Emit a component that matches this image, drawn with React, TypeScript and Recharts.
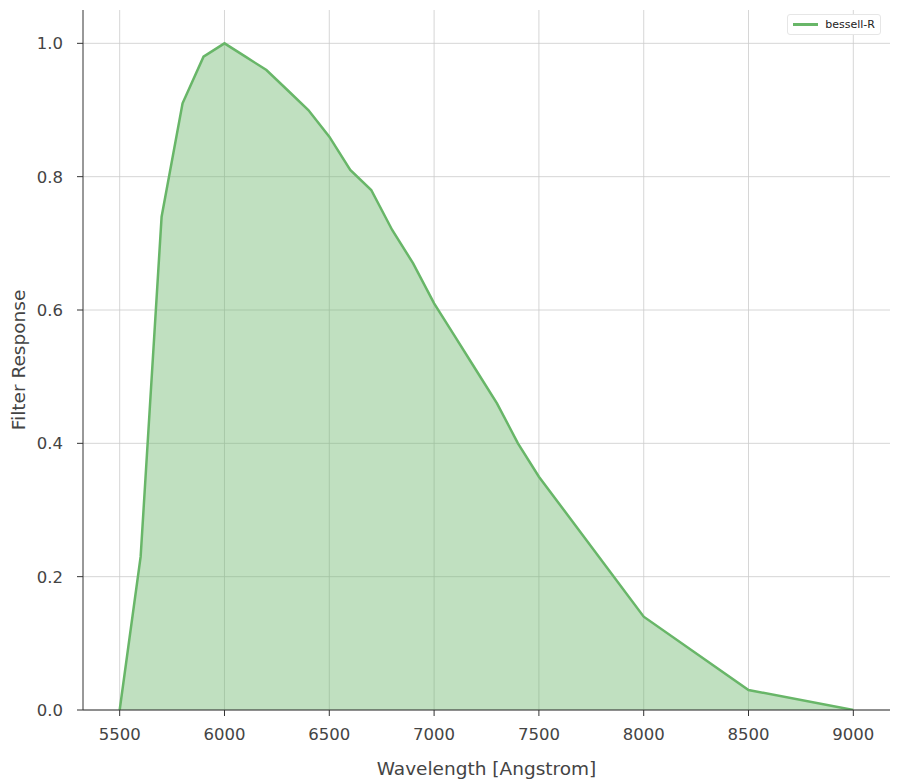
import { ComposedChart, Area, XAxis, YAxis, CartesianGrid, Legend } from "recharts";

// Bessell R filter transmission curve
const wavelengths = [
  5500, 5600, 5700, 5800, 5900, 6000, 6100, 6200, 6300, 6400, 6500, 6600,
  6700, 6800, 6900, 7000, 7100, 7200, 7300, 7400, 7500, 8000, 8500, 9000,
];
const response = [
  0.0, 0.23, 0.74, 0.91, 0.98, 1.0, 0.98, 0.96, 0.93, 0.9, 0.86, 0.81,
  0.78, 0.72, 0.67, 0.61, 0.56, 0.51, 0.46, 0.4, 0.35, 0.14, 0.03, 0.0,
];
const xTicks = [5500, 6000, 6500, 7000, 7500, 8000, 8500, 9000];
const yTicks = [0, 0.2, 0.4, 0.6, 0.8, 1.0];
const seriesName = "bessell-R";
const xDomain = [5325, 9175];
const yDomain = [0, 1.05];

const data = wavelengths.map((w, i) => ({ w, r: response[i] }));

const FONT = "DejaVu Sans, sans-serif";
const LINE = "#68b668";

function LegendBox() {
  return (
    <div
      style={{
        display: "flex",
        alignItems: "center",
        gap: 7,
        padding: "3px 5px",
        border: "1px solid #e6e6e6",
        borderRadius: 3,
        background: "#fff",
        fontFamily: FONT,
        fontSize: 11,
        color: "#222",
      }}
    >
      <span style={{ display: "inline-block", width: 25, height: 3, background: LINE }} />
      <span>{seriesName}</span>
    </div>
  );
}

// map a value through the axis scale (function or wrapper), else linear fallback
function project(axis: any, v: number, lo: number, len: number, dom: number[], flip: boolean) {
  const s = axis?.scale;
  if (typeof s === "function") return s(v);
  if (s && typeof s.map === "function") return s.map(v);
  const f = (v - dom[0]) / (dom[1] - dom[0]);
  return flip ? lo + len * (1 - f) : lo + len * f;
}

// grid only at the tick positions (no frame lines on top / right)
const gridX = ({ xAxis, offset }: any) =>
  xTicks.map((t) => project(xAxis, t, offset.left, offset.width, xDomain, false));
const gridY = ({ yAxis, offset }: any) =>
  yTicks.map((t) => project(yAxis, t, offset.top, offset.height, yDomain, true));

export default function App() {
  return (
    <div style={{ position: "absolute", left: 0, top: 0, background: "#fff" }}>
      <ComposedChart
        width={898}
        height={783}
        data={data}
        margin={{ top: 10, right: 8, left: 0, bottom: 0 }}
      >
        <CartesianGrid
          stroke="#cccccc"
          strokeWidth={0.8}
          verticalCoordinatesGenerator={gridX}
          horizontalCoordinatesGenerator={gridY}
        />
        <XAxis
          dataKey="w"
          type="number"
          domain={xDomain}
          ticks={xTicks}
          allowDataOverflow
          height={73}
          tickSize={6}
          tickMargin={12}
          stroke="#333"
          tick={{ fill: "#444", fontSize: 16.5, fontFamily: FONT }}
          label={{
            value: "Wavelength [Angstrom]",
            position: "insideBottom",
            offset: 8,
            fill: "#444",
            fontSize: 18.5,
            fontFamily: FONT,
          }}
        />
        <YAxis
          type="number"
          domain={yDomain}
          ticks={yTicks}
          allowDataOverflow
          width={83}
          tickSize={6}
          tickMargin={14}
          stroke="#333"
          tickFormatter={(v: number) => v.toFixed(1)}
          tick={{ fill: "#444", fontSize: 16.5, fontFamily: FONT }}
          label={{
            value: "Filter Response",
            angle: -90,
            position: "insideLeft",
            offset: 18,
            style: { textAnchor: "middle" },
            fill: "#444",
            fontSize: 18.5,
            fontFamily: FONT,
          }}
        />
        <Legend
          layout="horizontal"
          verticalAlign="middle"
          align="center"
          content={() => <LegendBox />}
          wrapperStyle={{ top: 14, right: 17, left: "auto", width: "auto" }}
        />
        <Area
          type="linear"
          dataKey="r"
          name={seriesName}
          stroke={LINE}
          strokeWidth={2.5}
          fill={LINE}
          fillOpacity={0.42}
          isAnimationActive={false}
          dot={false}
          activeDot={false}
        />
      </ComposedChart>
    </div>
  );
}
